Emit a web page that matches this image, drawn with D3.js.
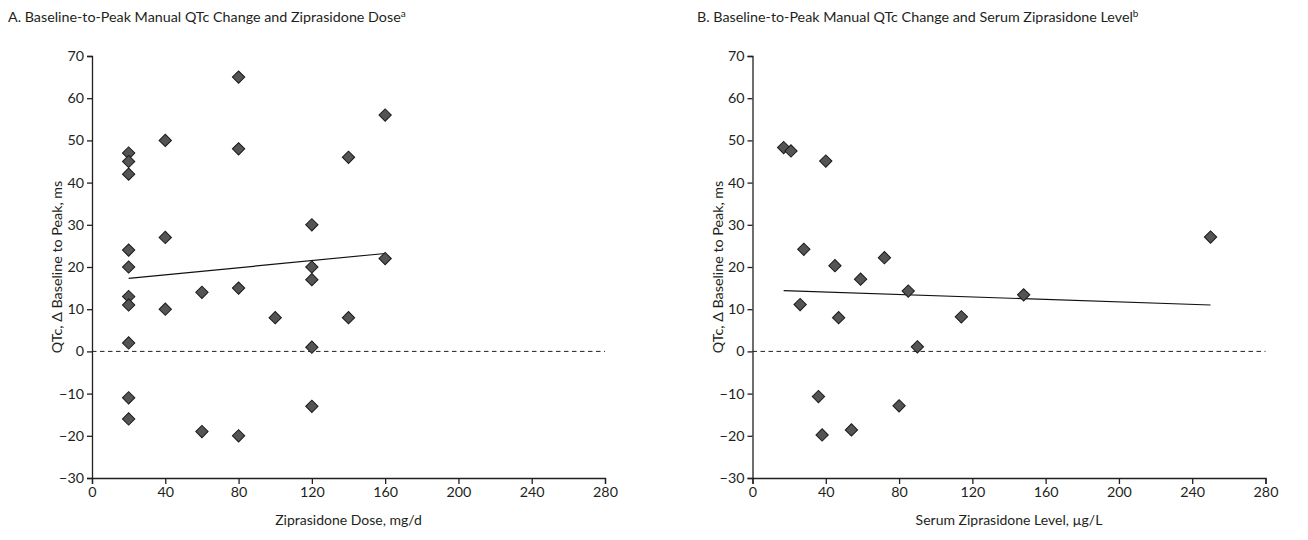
<!DOCTYPE html>
<html>
<head>
<meta charset="utf-8">
<script src="https://cdn.jsdelivr.net/npm/d3@7"></script>
<style>
  body { margin: 0; background: #fff; }
  svg text { font-family: Lato, "Open Sans", sans-serif; fill: #231f20; }
</style>
</head>
<body>
<div id="chart"></div>
<script>
// Panel A data: dose (mg/d) vs QTc change (ms)
const doseA = [20, 20, 20, 20, 20, 20, 20, 20, 20, 20,
  40, 40, 40, 60, 60, 80, 80, 80, 80, 100,
  120, 120, 120, 120, 120, 140, 140, 160, 160];
const qtcA = [47, 45, 42, 24, 20, 13, 11, 2, -11, -16,
  50, 27, 10, 14, -19, 65, 48, 15, -20, 8,
  30, 20, 17, 1, -13, 46, 8, 56, 22];
const fitXA = [20, 160];
const fitYA = [17.3, 23.2];

// Panel B data: serum level (µg/L) vs QTc change (ms)
const levelB = [17, 21, 40, 28, 45, 72, 59, 26, 47, 85, 114, 90, 36, 80, 38, 54, 148, 250];
const qtcB = [48.3, 47.5, 45.1, 24.2, 20.3, 22.2, 17.1, 11.1, 8.0, 14.3, 8.2, 1.1,
  -10.7, -12.9, -19.8, -18.6, 13.4, 27.1];
const fitXB = [17, 250];
const fitYB = [14.4, 11.0];

// Axis ticks
const xTicks = [0, 40, 80, 120, 160, 200, 240, 280];
const yTicks = [-30, -20, -10, 0, 10, 20, 30, 40, 50, 60, 70];

const W = 1308, H = 540;
const plot = { top: 56, bottom: 478, width: 513 };
const ink = "#231f20";

const svg = d3.select("#chart")
  .append("svg")
  .attr("width", W)
  .attr("height", H);

function drawPanel(o) {
  const g = svg.append("g")
    .attr("transform", "translate(" + o.left + ",0)");

  const x = d3.scaleLinear().domain([0, 280]).range([0, plot.width]);
  const y = d3.scaleLinear().domain([-30, 70]).range([plot.bottom, plot.top]);

  // Title with superscript
  const t = svg.append("text")
    .attr("x", o.titleX)
    .attr("y", 22)
    .attr("font-size", "14.3px");
  t.append("tspan").text(o.title);
  t.append("tspan")
    .attr("dy", -5)
    .attr("font-size", "10px")
    .text(o.sup);

  // Zero reference line
  g.append("line")
    .attr("x1", x(0)).attr("x2", x(280))
    .attr("y1", y(0)).attr("y2", y(0))
    .attr("stroke", ink)
    .attr("stroke-width", 1)
    .attr("stroke-dasharray", "4.5,3.5");

  // Axes
  const xAxis = g.append("g")
    .attr("transform", "translate(0," + plot.bottom + ")")
    .call(d3.axisBottom(x).tickValues(xTicks).tickSize(6).tickSizeOuter(6).tickPadding(3));
  const yAxis = g.append("g")
    .call(d3.axisLeft(y).tickValues(yTicks).tickSize(5).tickSizeOuter(5).tickPadding(3)
      .tickFormat(d => d < 0 ? "\u2212" + Math.abs(d) : d));
  [xAxis, yAxis].forEach(a => {
    a.selectAll("path, line").attr("stroke", ink).attr("stroke-width", 1.3);
    a.selectAll("text").attr("font-size", "14.3px").attr("fill", ink)
      .style("font-family", "Lato, 'Open Sans', sans-serif");
  });

  // Axis labels
  g.append("text")
    .attr("x", plot.width / 2)
    .attr("y", 525)
    .attr("text-anchor", "middle")
    .attr("font-size", "14px")
    .text(o.xLabel);
  g.append("text")
    .attr("transform", "translate(" + (-30) + "," + ((plot.top + plot.bottom) / 2) + ") rotate(-90)")
    .attr("text-anchor", "middle")
    .attr("font-size", "14.3px")
    .text("QTc, \u0394 Baseline to Peak, ms");

  // Fit line
  g.append("line")
    .attr("x1", x(o.fitX[0])).attr("x2", x(o.fitX[1]))
    .attr("y1", y(o.fitY[0])).attr("y2", y(o.fitY[1]))
    .attr("stroke", "#111")
    .attr("stroke-width", 1.2);

  // Diamond markers
  const pts = o.xs.map((v, i) => ({ x: v, y: o.ys[i] }));
  g.selectAll("path.pt")
    .data(pts)
    .enter()
    .append("path")
    .attr("class", "pt")
    .attr("d", d3.symbol(d3.symbolSquare, 76))
    .attr("transform", d => "translate(" + x(d.x) + "," + y(d.y) + ") rotate(45)")
    .attr("fill", "#545454")
    .attr("stroke", "#1a1a1a")
    .attr("stroke-width", 1);
}

drawPanel({
  left: 92, titleX: 8,
  title: "A. Baseline-to-Peak Manual QTc Change and Ziprasidone Dose", sup: "a",
  xLabel: "Ziprasidone Dose, mg/d",
  xs: doseA, ys: qtcA, fitX: fitXA, fitY: fitYA
});

drawPanel({
  left: 752.5, titleX: 697,
  title: "B. Baseline-to-Peak Manual QTc Change and Serum Ziprasidone Level", sup: "b",
  xLabel: "Serum Ziprasidone Level, \u00b5g/L",
  xs: levelB, ys: qtcB, fitX: fitXB, fitY: fitYB
});
</script>
</body>
</html>
